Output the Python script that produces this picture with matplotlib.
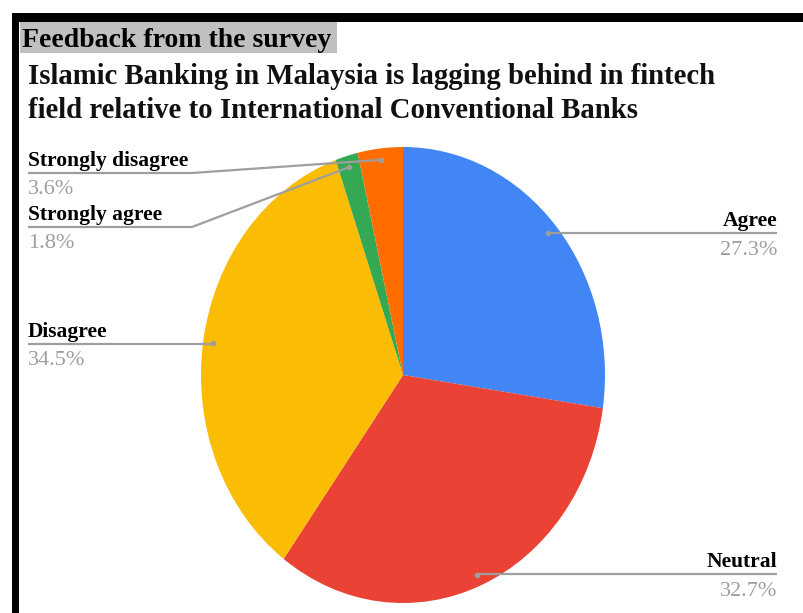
import numpy as np
import matplotlib
matplotlib.use("Agg")
import matplotlib.pyplot as plt
from matplotlib.patches import Rectangle

# Survey responses (share of 55 respondents), clockwise from 12 o'clock
categories = ["Agree", "Neutral", "Disagree", "Strongly agree", "Strongly disagree"]
values = [27.3, 32.7, 34.5, 1.8, 3.6]
colors = ["#4285F4", "#EA4335", "#FBBC04", "#34A853", "#FF6D01"]
pct_labels = [f"{v:.1f}%" for v in values]

W, H = 804, 613
fig = plt.figure(figsize=(W / 100, H / 100), dpi=100)
fig.patch.set_facecolor("white")

SERIF = ["Liberation Serif", "DejaVu Serif"]
GREY = "#9e9e9e"

# overlay in pixel units (origin top-left) for frame, titles and labels
ov = fig.add_axes([0, 0, 1, 1])
ov.set_xlim(0, W)
ov.set_ylim(H, 0)
ov.axis("off")

# black frame pieces along top and left edges
ov.add_patch(Rectangle((12, 13), W - 12, 9, color="black", lw=0))
ov.add_patch(Rectangle((12, 13), 7.5, H - 13, color="black", lw=0))
# grey band behind the heading
ov.add_patch(Rectangle((20, 22), 317, 31, color="#c0c0c0", lw=0))

ov.text(22, 47, "Feedback from the survey", family=SERIF, weight="bold",
        fontsize=20, color="black", va="baseline", ha="left")
ov.text(28, 84, "Islamic Banking in Malaysia is lagging behind in fintech",
        family=SERIF, weight="bold", fontsize=20.7, color="#111111",
        va="baseline", ha="left")
ov.text(28, 118, "field relative to International Conventional Banks",
        family=SERIF, weight="bold", fontsize=20.7, color="#111111",
        va="baseline", ha="left")

# pie axes: slightly taller than wide, so the pie is an ellipse
pie_l, pie_r, pie_t, pie_b = 201, 605, 147, 603
pax = fig.add_axes([pie_l / W, (H - pie_b) / H, (pie_r - pie_l) / W, (pie_b - pie_t) / H])
wedges, _ = pax.pie(values, colors=colors, startangle=90, counterclock=False,
                    radius=1, center=(0, 0), wedgeprops=dict(linewidth=0))
pax.set_xlim(-1, 1)
pax.set_ylim(-1, 1)
pax.set_aspect("auto")
pax.axis("off")

cx, cy = (pie_l + pie_r) / 2, (pie_t + pie_b) / 2
rx, ry = (pie_r - pie_l) / 2, (pie_b - pie_t) / 2


def anchor_px(i, r=0.95):
    """Pixel position of the leader dot inside wedge i."""
    start = sum(values[:i])
    mid = (start + values[i] / 2) / sum(values) * 2 * np.pi
    return cx + r * rx * np.sin(mid), cy - r * ry * np.cos(mid)


# label layout: (text baseline y, underline y, side)
layout = {
    "Agree": (226, 233, "right"),
    "Neutral": (567, 574, "right"),
    "Disagree": (337, 344, "left"),
    "Strongly agree": (220, 227, "left"),
    "Strongly disagree": (166, 173, "left"),
}
elbow_x = {"Strongly agree": 192, "Strongly disagree": 192}

LABEL_FS, PCT_FS = 15.5, 16
LX, RX = 28, 777
for i, name in enumerate(categories):
    ty, uy, side = layout[name]
    dx, dy = anchor_px(i)
    if side == "right":
        ov.plot([dx, RX], [uy, uy], color=GREY, lw=1.6, solid_capstyle="butt")
        ov.text(RX, ty, name, family=SERIF, weight="bold", fontsize=LABEL_FS,
                ha="right", va="baseline", color="black")
        ov.text(RX, uy + 22, pct_labels[i], family=SERIF, fontsize=PCT_FS,
                ha="right", va="baseline", color=GREY)
    else:
        ex = elbow_x.get(name)
        if ex is None:
            ov.plot([LX, dx], [uy, uy], color=GREY, lw=1.6, solid_capstyle="butt")
        else:
            ov.plot([LX, ex, dx], [uy, uy, dy], color=GREY, lw=1.6,
                    solid_capstyle="butt", solid_joinstyle="round")
        ov.text(LX, ty, name, family=SERIF, weight="bold", fontsize=LABEL_FS,
                ha="left", va="baseline", color="black")
        ov.text(LX, uy + 21, pct_labels[i], family=SERIF, fontsize=PCT_FS,
                ha="left", va="baseline", color=GREY)
    ov.plot([dx], [dy], "o", ms=4, color=GREY, mec="none")

# keep overlay drawing above the pie
ov.set_zorder(2)
ov.patch.set_alpha(0)

fig.savefig("out.png", dpi=100, facecolor="white")
